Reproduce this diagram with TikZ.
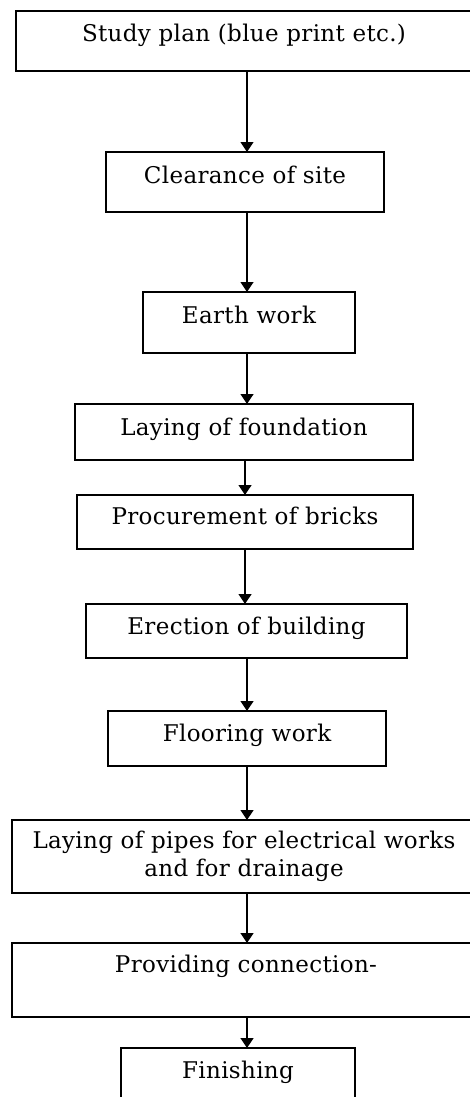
\documentclass[tikz,border=0pt]{standalone}
\usepackage{fontspec}
\setmainfont{DejaVu Serif}[LetterSpace=1.5]
\usetikzlibrary{
  arrows.meta,
  positioning
}
\tikzset{
  % For the boxes of the work stages.
  stage/.style={
    draw,
    rectangle,
    line width=1.3pt,
    inner sep=0pt,
    outer sep=0pt,
    align=center,
    font=\fontsize{23}{28}\selectfont},
%
  % For the arrows between stages.
  flow/.style={
    line width=1.3pt,
    -{Triangle[length=10pt,width=13pt]}},
}

\begin{document}
\begin{tikzpicture}[x=1pt, y=-1pt]
  \useasboundingbox (0,0) rectangle (470,1097);
  \clip (0,0) rectangle (470,1097);

  \coordinate (axis) at (247,0);
  \coordinate (axis') at (245,0);

  \node[stage, minimum width=456pt, text height=31pt, text depth=29pt]
    (plan) at (244,41) {Study plan (blue print etc.)};
  \node[stage, minimum width=278pt, text height=31pt, text depth=29pt]
    (site) at (245,182) {Clearance of site};
  \node[stage, minimum width=212pt, text height=31pt, text depth=30pt]
    (earth) at (249,322.5) {Earth work};
  \node[stage, minimum width=338pt, text height=31pt, text depth=25pt]
    (found) at (244,432) {Laying of foundation};
  \node[stage, minimum width=336pt, text height=29pt, text depth=25pt]
    (bricks) at (245,522) {Procurement of bricks};
  \node[stage, minimum width=321pt, text height=30pt, text depth=24pt]
    (erect) at (246.5,631) {Erection of building};
  \node[stage, minimum width=278pt, text height=30pt, text depth=25pt]
    (floor) at (247,738.5) {Flooring work};
  \node[stage, minimum width=464pt, minimum height=73pt]
    (pipes) at (244,856.5) {Laying of pipes for electrical works\\and for drainage};
  \node[stage, minimum width=468pt, text height=29pt, text depth=45pt]
    (conn) at (246,980) {Providing connection-};
  \node[stage, minimum width=234pt, text height=30pt, text depth=34pt]
    (finish) at (238,1080) {Finishing};

  % Most arrows run down the same line, two of them a little to the left.
  \draw[flow] (plan.south -| axis) -- (site.north -| axis);
  \draw[flow] (site.south -| axis) -- (earth.north -| axis);
  \draw[flow] (earth.south -| axis) -- (found.north -| axis);
  \draw[flow] (found.south -| axis') -- (bricks.north -| axis');
  \draw[flow] (bricks.south -| axis') -- (erect.north -| axis');
  \draw[flow] (erect.south -| axis) -- (floor.north -| axis);
  \draw[flow] (floor.south -| axis) -- (pipes.north -| axis);
  \draw[flow] (pipes.south -| axis) -- (conn.north -| axis);
  \draw[flow] (conn.south -| axis) -- (finish.north -| axis);
\end{tikzpicture}
\end{document}
